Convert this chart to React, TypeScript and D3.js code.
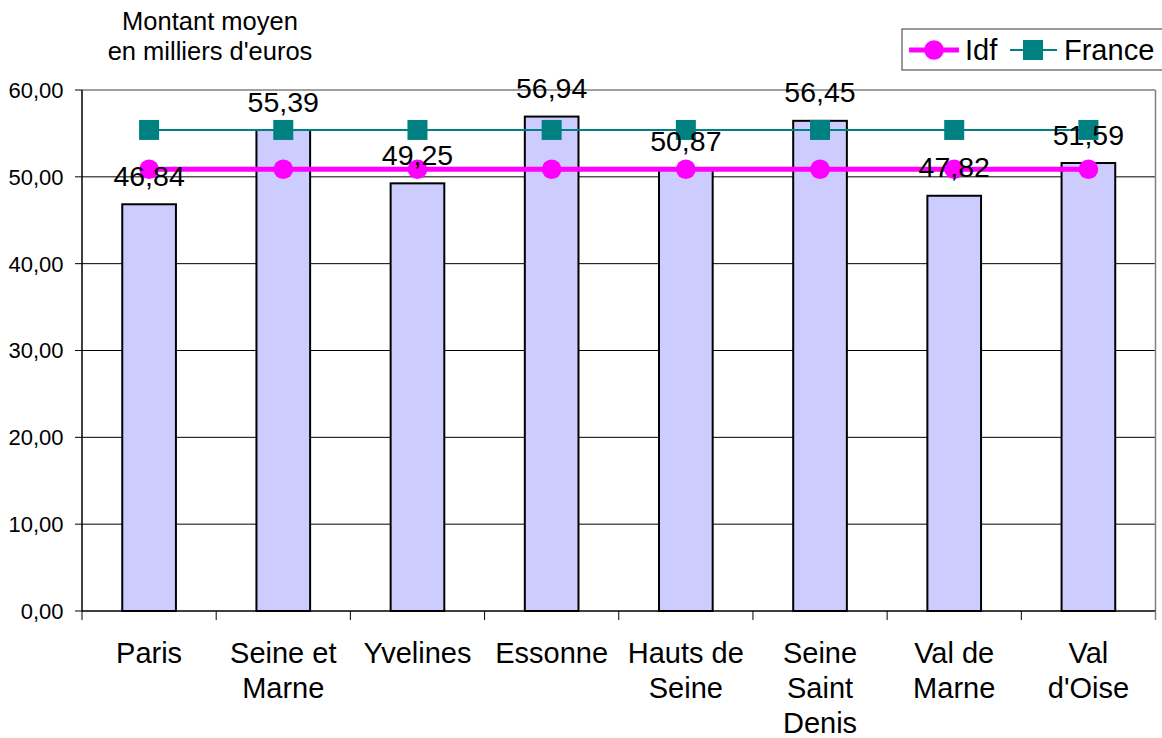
import React from "react";
import * as d3 from "d3";

const categories: string[][] = [
  ["Paris"],
  ["Seine et", "Marne"],
  ["Yvelines"],
  ["Essonne"],
  ["Hauts de", "Seine"],
  ["Seine", "Saint", "Denis"],
  ["Val de", "Marne"],
  ["Val", "d'Oise"],
];
const barValues = [46.84, 55.39, 49.25, 56.94, 50.87, 56.45, 47.82, 51.59];
const idfValues = [50.87, 50.87, 50.87, 50.87, 50.87, 50.87, 50.87, 50.87];
const franceValues = [55.4, 55.4, 55.4, 55.4, 55.4, 55.4, 55.4, 55.4];
const yTicks = [0, 10, 20, 30, 40, 50, 60];
const titleLines = ["Montant moyen", "en milliers d'euros"];
const legendLabels = ["Idf", "France"];

const W = 1162;
const H = 738;
const FONT = "'Liberation Sans', Arial, Helvetica, sans-serif";
const fmt = (v: number) => v.toFixed(2).replace(".", ",");

export default function App() {
  const keys = categories.map((c) => c.join(" "));
  const x = d3.scaleBand<string>().domain(keys).range([82, 1155.5]).padding(0);
  const y = d3.scaleLinear().domain([0, 60]).range([611, 90]);
  const bw = x.bandwidth() * 0.4;
  const cx = (i: number) => (x(keys[i]) as number) + x.bandwidth() / 2;

  const line = d3
    .line<number>()
    .x((_, i) => cx(i))
    .y((d) => y(d));

  return (
    <div style={{ position: "absolute", left: 0, top: 0 }}>
      <svg width={W} height={H} style={{ display: "block", background: "#fff" }} fontFamily={FONT}>
        <rect x={0} y={0} width={W} height={H} fill="#fff" />
        {/* title */}
        {titleLines.map((t, i) => (
          <text key={t} x={210} y={29.5 + i * 30.7} textAnchor="middle" fontSize={25.5} fill="#000">
            {t}
          </text>
        ))}
        {/* gridlines */}
        {yTicks.map((t) =>
          t === 0 || t === 60 ? null : (
            <line key={t} x1={82} x2={1155.5} y1={y(t)} y2={y(t)} stroke="#000" strokeWidth={1} />
          )
        )}
        {/* plot border top and right */}
        <line x1={82} x2={1155.5} y1={y(60)} y2={y(60)} stroke="#808080" strokeWidth={1.5} />
        <line x1={1155.5} x2={1155.5} y1={y(60)} y2={y(0)} stroke="#808080" strokeWidth={1.5} />
        {/* bars */}
        {barValues.map((v, i) => (
          <rect
            key={i}
            x={cx(i) - bw / 2}
            y={y(v)}
            width={bw}
            height={y(0) - y(v)}
            fill="#CCCCFF"
            stroke="#000"
            strokeWidth={2}
          />
        ))}
        {/* y axis */}
        <line x1={82} x2={82} y1={y(60)} y2={y(0)} stroke="#000" strokeWidth={1.5} />
        {yTicks.map((t) => (
          <g key={t}>
            <line x1={75} x2={82} y1={y(t)} y2={y(t)} stroke="#000" strokeWidth={1} />
            <text x={63.5} y={y(t)} dy="0.36em" textAnchor="end" fontSize={22} fill="#000">
              {fmt(t)}
            </text>
          </g>
        ))}
        {/* x axis */}
        <line x1={82} x2={1155.5} y1={y(0)} y2={y(0)} stroke="#000" strokeWidth={1.5} />
        {keys.map((k) => (
          <line key={k} x1={x(k)} x2={x(k)} y1={y(0)} y2={y(0) + 9} stroke="#000" strokeWidth={1} />
        ))}
        <line x1={1155.5} x2={1155.5} y1={y(0)} y2={y(0) + 9} stroke="#808080" strokeWidth={1.5} />
        {categories.map((lines, i) => (
          <text key={i} textAnchor="middle" fontSize={29} fill="#000">
            {lines.map((l, j) => (
              <tspan key={j} x={cx(i)} y={663 + j * 35}>
                {l}
              </tspan>
            ))}
          </text>
        ))}
        {/* France line */}
        <path d={line(franceValues) as string} fill="none" stroke="#008080" strokeWidth={2} />
        {franceValues.map((v, i) => (
          <rect key={i} x={cx(i) - 10} y={y(v) - 10} width={20} height={20} fill="#008080" />
        ))}
        {/* Idf line */}
        <path d={line(idfValues) as string} fill="none" stroke="#FF00FF" strokeWidth={5} />
        {idfValues.map((v, i) => (
          <circle key={i} cx={cx(i)} cy={y(v)} r={9.8} fill="#FF00FF" />
        ))}
        {/* data labels */}
        {barValues.map((v, i) => (
          <text key={i} x={cx(i)} y={y(v) - 18.5} textAnchor="middle" fontSize={28.5} fill="#000">
            {fmt(v)}
          </text>
        ))}
        {/* legend */}
        <rect x={902} y={29} width={270} height={41} fill="#fff" stroke="#555" strokeWidth={1.2} />
        <line x1={909} x2={959} y1={50} y2={50} stroke="#FF00FF" strokeWidth={5} />
        <circle cx={934} cy={50} r={9.8} fill="#FF00FF" />
        <text x={965} y={59.5} fontSize={29} fill="#000">
          {legendLabels[0]}
        </text>
        <line x1={1010} x2={1057} y1={50} y2={50} stroke="#008080" strokeWidth={2} />
        <rect x={1023} y={40} width={20} height={20} fill="#008080" />
        <text x={1064} y={59.5} fontSize={29} fill="#000">
          {legendLabels[1]}
        </text>
      </svg>
    </div>
  );
}
